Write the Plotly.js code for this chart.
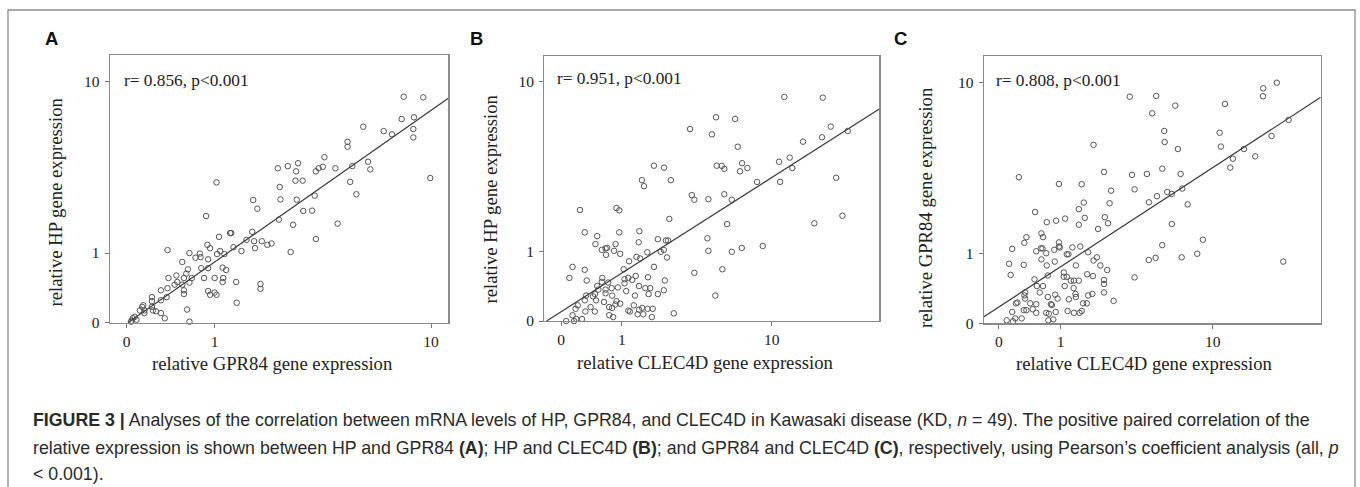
<!DOCTYPE html>
<html>
<head>
<meta charset="utf-8">
<script src="https://cdn.plot.ly/plotly-3.0.1.min.js"></script>
<style>
html, body { margin: 0; padding: 0; background: #fff; }
#chart { width: 1360px; height: 487px; }
</style>
</head>
<body>
<div id="chart"></div>
<script>
// ---------- DATA (relative gene expression) ----------
// Panel A: GPR84 (x) vs HP (y)
const gpr84_A = [7.87,9.35,8.62,7.73,5.45,8.57,8.57,6.58,7.09,4.70,4.70,5.70,5.82,4.92,9.94,4.82,5.11,4.27,3.75,3.69,3.54,3.44,4.18,2.86,2.80,2.56,2.29,2.78,3.00,2.34,2.36,2.82,3.40,3.02,3.31,2.32,2.71,3.44,2.64,1.03,1.71,1.80,0.87,1.26,1.28,1.69,1.07,1.57,1.73,1.90,2.03,2.13,1.32,1.75,1.47,0.89,0.93,1.09,1.16,1.04,0.78,0.72,0.79,0.64,0.38,0.55,0.90,0.80,0.90,1.13,1.19,0.62,0.60,0.48,0.39,0.49,0.57,0.67,0.84,1.00,1.14,1.13,1.37,1.87,1.87,0.64,0.55,0.46,0.57,0.57,0.90,0.93,1.00,1.03,1.38,0.61,0.38,0.31,0.37,0.22,0.31,0.22,0.14,0.13,0.11,0.15,0.23,0.22,0.26,0.31,0.35,0.065,0.05,0.035,0.15,0.64,0.04,0.08];
const hp_A    = [8.48,8.42,6.72,6.59,6.03,5.87,5.32,5.73,5.52,5.05,4.76,3.96,3.60,3.75,3.22,3.06,2.59,1.68,4.19,3.72,3.65,3.51,3.65,3.89,3.51,3.75,3.65,3.11,3.11,2.86,2.41,2.40,2.54,2.04,2.05,1.79,1.65,1.30,1.02,3.04,2.39,2.11,1.89,1.44,1.44,1.47,1.35,1.28,1.25,1.25,1.17,1.20,1.12,1.10,1.04,1.17,1.10,1.04,0.98,0.98,0.99,0.91,0.92,1.00,1.06,0.83,0.88,0.72,0.72,0.73,0.69,0.70,0.63,0.60,0.56,0.50,0.56,0.56,0.56,0.56,0.56,0.50,0.50,0.47,0.40,0.49,0.46,0.46,0.38,0.33,0.37,0.32,0.35,0.32,0.22,0.14,0.41,0.38,0.29,0.29,0.25,0.24,0.19,0.17,0.13,0.13,0.13,0.17,0.12,0.10,0.045,0.06,0.045,0.01,0.10,0.01,0.02,0.03];

// Panel B: CLEC4D (x) vs HP (y)
const clec4d_B = [3.34,4.57,1.88,2.23,1.51,1.57,2.49,3.43,3.56,4.35,0.24,0.88,0.94,2.43,0.31,0.51,0.94,1.44,0.48,0.86,1.42,2.01,2.30,2.38,4.29,0.59,0.66,0.69,0.67,0.83,0.96,1.67,2.11,2.22,2.34,4.35,1.36,1.46,1.17,0.14,0.31,1.04,1.88,3.56,0.10,0.34,0.60,0.59,0.71,1.06,1.15,1.25,1.34,1.69,2.26,0.51,0.53,0.66,0.78,0.91,1.06,1.10,1.43,1.61,1.76,1.71,2.01,2.22,0.33,0.47,0.44,0.66,0.79,1.32,0.31,0.49,0.63,0.88,0.96,0.86,0.21,0.40,0.18,0.32,0.47,0.73,0.79,1.15,1.19,1.29,1.43,1.52,1.68,1.84,1.55,1.39,1.81,2.61,0.14,0.27,0.19,0.16,0.06,0.73,0.81,11.70,18.66,4.84,6.25,6.47,20.53,25.12,18.5,14.71,4.88,5.23,5.41,6.85,6.67,7.34,10.96,12.50,12.91,11.1,8.31,21.9,5.41,5.98,5.62,16.86,23.6,5.98,6.82,8.93,5.27,4.79];
const hp_B     = [5.84,5.49,3.74,3.65,3.10,2.86,3.10,2.53,2.37,2.39,2.04,2.10,2.03,1.78,1.43,1.34,1.43,1.46,1.16,1.16,1.20,1.27,1.24,1.24,1.29,1.04,1.07,1.08,0.94,1.02,0.96,0.99,1.00,1.04,0.89,1.02,0.90,0.87,0.82,0.72,0.67,0.68,0.72,0.62,0.54,0.50,0.54,0.48,0.47,0.52,0.54,0.51,0.57,0.55,0.50,0.42,0.37,0.37,0.39,0.40,0.46,0.35,0.42,0.39,0.39,0.31,0.31,0.36,0.29,0.31,0.28,0.32,0.29,0.29,0.23,0.23,0.21,0.22,0.19,0.18,0.17,0.15,0.13,0.10,0.10,0.15,0.14,0.11,0.10,0.17,0.12,0.14,0.13,0.13,0.07,0.07,0.04,0.08,0.06,0.02,0.02,0.00,0.00,0.06,0.04,8.44,8.37,6.70,6.57,4.73,6.01,5.71,5.30,5.03,3.74,3.73,3.59,3.86,3.48,3.63,3.93,4.14,3.63,3.03,3.03,3.20,2.56,2.37,1.64,1.66,1.87,1.00,1.08,1.12,0.68,0.29];

// Panel C: CLEC4D (x) vs GPR84 (y)
const clec4d_C = [3.34,4.58,1.89,0.25,2.25,3.45,4.26,0.96,1.53,2.52,3.58,4.38,1.59,2.46,0.50,1.45,0.71,0.90,1.10,1.62,1.45,2.28,2.40,2.04,0.36,0.33,0.61,0.64,0.96,0.96,0.16,0.52,0.60,0.63,0.70,0.86,0.98,1.14,1.18,1.28,1.49,1.72,2.00,1.89,4.37,0.12,0.32,0.61,0.71,0.87,1.37,2.12,0.14,0.49,0.73,1.07,1.07,1.14,1.24,1.32,1.45,1.69,1.87,2.25,2.37,3.58,0.53,0.64,1.09,1.31,2.25,0.34,0.58,0.88,0.33,0.23,0.21,0.34,0.42,0.52,0.73,0.79,0.81,0.93,1.19,1.36,1.37,1.57,1.68,1.72,1.85,2.25,2.62,0.16,0.32,0.36,0.46,0.52,0.70,0.75,0.89,1.16,1.32,1.47,1.53,0.09,0.17,0.20,0.29,0.74,0.84,21.6,18.4,18.35,4.84,6.23,11.63,24.8,10.9,20.3,5.39,5.42,6.45,11.07,14.63,16.74,12.8,12.4,5.25,6.68,4.89,5.61,5.95,6.82,7.31,5.95,5.25,8.86,4.80,6.77,8.25,23.3];
const gpr84_C  = [8.57,7.11,4.92,3.29,3.52,3.39,3.43,3.01,3.00,2.75,2.80,2.34,2.33,2.31,2.03,2.12,1.74,1.78,1.84,1.86,1.67,1.88,1.71,1.56,1.36,1.23,1.45,1.36,1.24,1.15,1.10,1.05,1.11,1.11,1.01,1.08,1.13,0.99,0.99,1.13,1.15,1.03,0.93,0.87,0.88,0.81,0.79,0.89,0.78,0.85,0.78,0.78,0.62,0.55,0.61,0.66,0.59,0.59,0.53,0.53,0.53,0.63,0.60,0.54,0.70,0.58,0.45,0.45,0.45,0.42,0.48,0.36,0.36,0.33,0.32,0.23,0.22,0.28,0.22,0.21,0.30,0.21,0.20,0.28,0.27,0.34,0.30,0.22,0.22,0.32,0.34,0.36,0.25,0.12,0.14,0.14,0.15,0.11,0.11,0.10,0.12,0.13,0.11,0.11,0.13,0.03,0.02,0.05,0.05,0.03,0.04,10.0,9.4,8.61,8.64,7.75,7.90,6.59,5.68,5.47,5.80,5.09,4.68,4.82,4.68,4.28,4.16,3.72,3.67,3.43,2.55,2.70,2.63,2.83,2.27,1.69,1.18,1.30,0.92,0.93,1.00,0.85];

// Regression lines as drawn in the figure, in log10(value + 1) units: [intercept, slope]
const fitA = [-0.004, 0.885];
const fitB = [0.040, 0.561];
const fitC = [0.071, 0.5785];

const rLabels = ['r= 0.856, p<0.001', 'r= 0.951, p<0.001', 'r= 0.808, p<0.001'];
const tickValues = [0, 1, 10];
const tickLabels = ['0', '1', '10'];
const panelLetters = ['A', 'B', 'C'];
const xTitles = ['relative GPR84 gene expression', 'relative CLEC4D gene expression', 'relative CLEC4D gene expression'];
const yTitles = ['relative HP gene expression', 'relative HP gene expression', 'relative GPR84 gene expression'];

// ---------- LAYOUT HELPERS ----------
const W = 1360, H = 487;
const px = x => x / W;
const py = y => 1 - y / H;
const serif = '"Liberation Serif", "Times New Roman", Times, serif';
const sans = '"Liberation Sans", Arial, Helvetica, sans-serif';

const panels = [
  { x: gpr84_A, y: hp_A, fit: fitA, xd: [110, 448.3], yd: [55, 322.7], xr: [-0.057, 1.1006], yr: [0, 1.157],
    letter: [51.5, 38], rpos: [121.7, 80], xt: [272, 363], yt: [55, 202.5] },
  { x: clec4d_B, y: hp_B, fit: fitB, xd: [544.3, 879.3], yd: [56, 321], xr: [-0.0826, 1.573], yr: [0, 1.153],
    letter: [476.7, 38], rpos: [555, 78.5], xt: [705, 362], yt: [490, 199.5] },
  { x: clec4d_C, y: gpr84_C, fit: fitC, xd: [984, 1320.7], yd: [56, 323.3], xr: [-0.073, 1.568], yr: [0, 1.157],
    letter: [900.8, 38], rpos: [994.3, 81], xt: [1144, 363.3], yt: [925, 208] }
];

const traces = [];
const layout = {
  width: W, height: H,
  margin: { l: 0, r: 0, t: 0, b: 0, pad: 0 },
  paper_bgcolor: '#fff', plot_bgcolor: '#fff',
  showlegend: false,
  annotations: [],
  shapes: [{
    type: 'rect', xref: 'paper', yref: 'paper',
    x0: px(8), x1: px(1355), y0: -0.1, y1: py(10),
    line: { color: '#8c8c8c', width: 1.3 }, fillcolor: 'rgba(0,0,0,0)', layer: 'below'
  }]
};

panels.forEach((p, i) => {
  const n = i === 0 ? '' : String(i + 1);
  const xa = 'x' + n, ya = 'y' + n;
  const shift = v => v.map(d => d + 1);   // axis shows log10(value + 1)

  traces.push({
    type: 'scatter', mode: 'markers', xaxis: xa, yaxis: ya,
    x: shift(p.x), y: shift(p.y), cliponaxis: false,
    marker: { symbol: 'circle-open', size: 5.5, color: '#555', line: { width: 1, color: '#555' } },
    hoverinfo: 'skip'
  });

  const [a, b] = p.fit;
  const u0 = Math.max(p.xr[0], -a / b), u1 = p.xr[1];
  traces.push({
    type: 'scatter', mode: 'lines', xaxis: xa, yaxis: ya,
    x: [Math.pow(10, u0), Math.pow(10, u1)],
    y: [Math.pow(10, a + b * u0), Math.pow(10, a + b * u1)],
    line: { color: '#3a3a3a', width: 1.2 }, hoverinfo: 'skip'
  });

  const axBase = {
    type: 'log', tickmode: 'array', tickvals: shift(tickValues), ticktext: tickLabels,
    ticks: 'outside', ticklen: 4, tickwidth: 1, tickcolor: '#777',
    showline: true, mirror: true, linecolor: '#8a8a8a', linewidth: 1.3,
    showgrid: false, zeroline: false, fixedrange: true,
    tickfont: { family: serif, size: 15.5, color: '#222' }
  };
  layout['xaxis' + n] = Object.assign({}, axBase, {
    domain: [px(p.xd[0]), px(p.xd[1])], range: p.xr, anchor: ya
  });
  layout['yaxis' + n] = Object.assign({}, axBase, {
    domain: [py(p.yd[1]), py(p.yd[0])], range: p.yr, anchor: xa, ticklabelstandoff: 2
  });

  layout.annotations.push(
    { xref: 'paper', yref: 'paper', x: px(p.letter[0]), y: py(p.letter[1]), xanchor: 'center', yanchor: 'middle',
      text: '<b>' + panelLetters[i] + '</b>', showarrow: false, font: { family: sans, size: 18.5, color: '#111' } },
    { xref: 'paper', yref: 'paper', x: px(p.rpos[0]), y: py(p.rpos[1]), xanchor: 'left', yanchor: 'middle',
      text: rLabels[i], showarrow: false, font: { family: serif, size: 17.3, color: '#222' } },
    { xref: 'paper', yref: 'paper', x: px(p.xt[0]), y: py(p.xt[1]), xanchor: 'center', yanchor: 'middle',
      text: xTitles[i], showarrow: false, font: { family: serif, size: 18.7, color: '#222' } },
    { xref: 'paper', yref: 'paper', x: px(p.yt[0]), y: py(p.yt[1]), xanchor: 'center', yanchor: 'middle',
      text: yTitles[i], textangle: -90, showarrow: false, font: { family: serif, size: 18.7, color: '#222' } }
  );
});

// Caption
const captionLines = [
  '<b>FIGURE 3 |</b> Analyses of the correlation between mRNA levels of HP, GPR84, and CLEC4D in Kawasaki disease (KD, <i>n</i> = 49). The positive paired correlation of the',
  'relative expression is shown between HP and GPR84 <b>(A)</b>; HP and CLEC4D <b>(B)</b>; and GPR84 and CLEC4D <b>(C)</b>, respectively, using Pearson’s coefficient analysis (all, <i>p</i>',
  '&lt; 0.001).'
];
const captionY = [420, 448, 474];
captionLines.forEach((t, k) => {
  layout.annotations.push({
    xref: 'paper', yref: 'paper', x: px(31), y: py(captionY[k]), xanchor: 'left', yanchor: 'middle',
    text: t, showarrow: false, align: 'left', font: { family: sans, size: 17.75, color: '#2a2a2a' }
  });
});

Plotly.newPlot('chart', traces, layout, { staticPlot: true, displayModeBar: false });
</script>
</body>
</html>
